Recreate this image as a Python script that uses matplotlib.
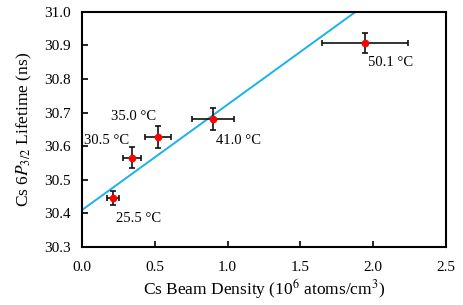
import numpy as np
import matplotlib.pyplot as plt

plt.rcParams['font.family'] = ['Liberation Serif', 'DejaVu Serif']
plt.rcParams['mathtext.fontset'] = 'stix'

# data
density = [0.213, 0.343, 0.52, 0.90, 1.944]
lifetime = [30.446, 30.566, 30.627, 30.681, 30.907]
xerr = [0.04, 0.06, 0.09, 0.145, 0.295]
yerr = [0.022, 0.032, 0.032, 0.034, 0.03]
temps = ["25.5 °C", "30.5 °C", "35.0 °C", "41.0 °C", "50.1 °C"]

# linear fit line
fit_x = [0.0, 2.5]
fit_intercept = 30.41
fit_slope = 0.314

fig, ax = plt.subplots(figsize=(4.63, 3.05), dpi=100)
fig.subplots_adjust(left=0.177, right=0.963, top=0.961, bottom=0.19)

fx = np.array(fit_x)
ax.plot(fx, fit_intercept + fit_slope * fx, color="#1ab2ea", lw=1.4, zorder=1)
ax.errorbar(density, lifetime, xerr=xerr, yerr=yerr, fmt="o", color="red",
            ms=4.5, ecolor="#111111", elinewidth=1.2, capsize=2, capthick=1.2, zorder=2)

offsets = [(2, -10, "left", "top"), (-2, 8, "right", "bottom"), (-1, 10, "right", "bottom"),
           (2, -11, "left", "top"), (2, -9, "left", "top")]
for x, y, t, (dx, dy, ha, va) in zip(density, lifetime, temps, offsets):
    ax.annotate(t, (x, y), xytext=(dx, dy), textcoords="offset points", ha=ha, va=va, fontsize=10.5)

ax.set_xlim(0, 2.5)
ax.set_ylim(30.3, 31.0)
ax.set_xticks(np.arange(0, 2.51, 0.5))
ax.set_yticks(np.arange(30.3, 31.01, 0.1))
ax.xaxis.set_major_formatter(plt.FormatStrFormatter("%.1f"))
ax.yaxis.set_major_formatter(plt.FormatStrFormatter("%.1f"))
ax.tick_params(direction="in", labelsize=11, length=4, width=1.2)
ax.tick_params(axis="x", pad=10)
ax.tick_params(axis="y", pad=8)
for s in ax.spines.values():
    s.set_linewidth(1.5)
ax.set_xlabel("Cs Beam Density (10$^6$ atoms/cm$^3$)", fontsize=12.5, labelpad=2)
ax.set_ylabel("Cs 6$\\mathit{P}_{3/2}$ Lifetime (ns)", fontsize=12.5, labelpad=7)

fig.savefig("out.png", dpi=100)
